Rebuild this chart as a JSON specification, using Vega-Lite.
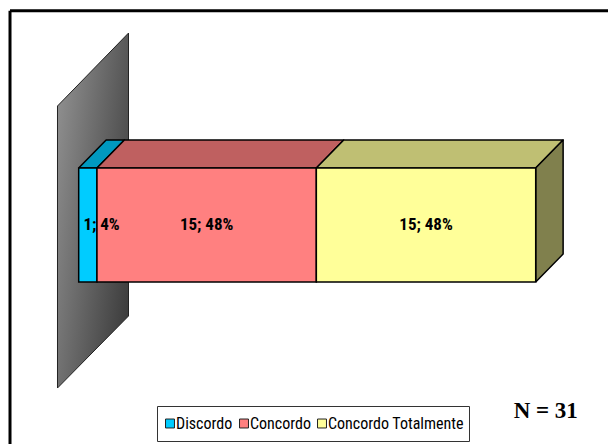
{
  "$schema": "https://vega.github.io/schema/vega-lite/v6.json",
  "width": 608,
  "height": 444,
  "padding": 0,
  "autosize": "none",
  "background": "#ffffff",
  "view": {"stroke": null},
  "datasets": {
    "respostas": [
      {"ordem": 1, "resposta": "Discordo", "n": 1, "pct": 4},
      {"ordem": 2, "resposta": "Concordo", "n": 15, "pct": 48},
      {"ordem": 3, "resposta": "Concordo Totalmente", "n": 15, "pct": 48}
    ],
    "nota": [{"n": 31}]
  },
  "layer": [
    {
      "description": "Back wall of the 3D chart",
      "data": {"values": [{"plano": "parede"}]},
      "transform": [
        {"calculate": "[0,1,2,3,4]", "as": "vertice"},
        {"calculate": "[-4.64,10.9,10.9,-4.64,-4.64]", "as": "px"},
        {"calculate": "[1.544,2.184,-0.298,-0.93,1.544]", "as": "py"},
        {"flatten": ["vertice", "px", "py"]}
      ],
      "mark": {
        "type": "line",
        "stroke": "#222222",
        "strokeWidth": 1,
        "fill": {
          "gradient": "linear",
          "x1": 0, "y1": 0.2, "x2": 1, "y2": 0.8,
          "stops": [
            {"offset": 0, "color": "#8e8e8e"},
            {"offset": 1, "color": "#3c3c3c"}
          ]
        }
      },
      "encoding": {
        "x": {"field": "px", "type": "quantitative", "scale": {"domain": [-17.22, 115.82], "nice": false, "zero": false}, "axis": null},
        "y": {"field": "py", "type": "quantitative", "scale": {"domain": [-1.421, 2.474], "nice": false, "zero": false}, "axis": null},
        "order": {"field": "vertice"}
      }
    },
    {
      "description": "Top faces of the stacked segments",
      "data": {"name": "respostas"},
      "transform": [
        {"stack": "pct", "sort": [{"field": "ordem"}], "as": ["inicio", "fim"]},
        {"calculate": "[0,1,2,3,4]", "as": "vertice"},
        {"calculate": "[datum.inicio,datum.fim,datum.fim+6.0,datum.inicio+6.0,datum.inicio]", "as": "px"},
        {"calculate": "[1,1,1.245,1.245,1]", "as": "py"},
        {"flatten": ["vertice", "px", "py"]}
      ],
      "mark": {"type": "line", "stroke": "#000000", "strokeWidth": 1.5, "strokeJoin": "round"},
      "encoding": {
        "x": {"field": "px", "type": "quantitative"},
        "y": {"field": "py", "type": "quantitative"},
        "order": {"field": "vertice"},
        "fill": {
          "field": "resposta",
          "type": "nominal",
          "scale": {"domain": ["Discordo", "Concordo", "Concordo Totalmente"], "range": ["#0099BF", "#BF6060", "#BFBF73"]},
          "legend": null
        }
      }
    },
    {
      "description": "Right-hand end face of the last segment",
      "data": {"name": "respostas"},
      "transform": [
        {"stack": "pct", "sort": [{"field": "ordem"}], "as": ["inicio", "fim"]},
        {"filter": "datum.ordem === 3"},
        {"calculate": "[0,1,2,3,4]", "as": "vertice"},
        {"calculate": "[datum.fim,datum.fim+6.0,datum.fim+6.0,datum.fim,datum.fim]", "as": "px"},
        {"calculate": "[0,0.245,1.245,1,0]", "as": "py"},
        {"flatten": ["vertice", "px", "py"]}
      ],
      "mark": {"type": "line", "stroke": "#000000", "strokeWidth": 1.5, "strokeJoin": "round", "fill": "#80804D"},
      "encoding": {
        "x": {"field": "px", "type": "quantitative"},
        "y": {"field": "py", "type": "quantitative"},
        "order": {"field": "vertice"}
      }
    },
    {
      "description": "Front faces of the stacked segments, which also carry the legend",
      "data": {"name": "respostas"},
      "transform": [
        {"stack": "pct", "sort": [{"field": "ordem"}], "as": ["inicio", "fim"]}
      ],
      "mark": {"type": "rect", "stroke": "#000000", "strokeWidth": 1.5},
      "encoding": {
        "x": {"field": "inicio", "type": "quantitative"},
        "x2": {"field": "fim"},
        "y": {"datum": 0},
        "y2": {"datum": 1},
        "fill": {
          "field": "resposta",
          "type": "nominal",
          "scale": {"domain": ["Discordo", "Concordo", "Concordo Totalmente"], "range": ["#00CCFF", "#FF8080", "#FFFF99"]},
          "legend": {
            "title": null,
            "orient": "none",
            "direction": "horizontal",
            "legendX": 157,
            "legendY": 406,
            "fillColor": "#ffffff",
            "strokeColor": "#333333",
            "padding": 5,
            "clipHeight": 25,
            "symbolType": "square",
            "symbolSize": 80,
            "symbolStrokeColor": "#222222",
            "symbolStrokeWidth": 1,
            "symbolOpacity": 1,
            "labelFont": "Roboto Condensed",
            "labelFontSize": 16,
            "labelColor": "#000000",
            "columnPadding": 3,
            "labelOffset": -2
          }
        }
      }
    },
    {
      "description": "Count and percentage labels",
      "data": {"name": "respostas"},
      "transform": [
        {"stack": "pct", "sort": [{"field": "ordem"}], "as": ["inicio", "fim"]},
        {"calculate": "datum.n + '; ' + datum.pct + '%'", "as": "rotulo"},
        {"calculate": "(datum.inicio + datum.fim) / 2 + (datum.pct < 5 ? 3 : 0)", "as": "meio"}
      ],
      "mark": {"type": "text", "font": "Roboto Condensed", "fontWeight": "bold", "fontSize": 17, "color": "#000000", "baseline": "middle", "align": "center"},
      "encoding": {
        "x": {"field": "meio", "type": "quantitative"},
        "y": {"datum": 0.5},
        "text": {"field": "rotulo"}
      }
    },
    {
      "description": "Sample size note",
      "data": {"name": "nota"},
      "transform": [{"calculate": "'N = ' + datum.n", "as": "texto"}],
      "mark": {"type": "text", "font": "Liberation Serif", "fontWeight": "bold", "fontSize": 23, "color": "#000000", "align": "center", "baseline": "alphabetic"},
      "encoding": {
        "x": {"datum": 102.2},
        "y": {"datum": -1.193},
        "text": {"field": "texto"}
      }
    },
    {
      "description": "Frame: left edge",
      "data": {"name": "nota"},
      "mark": {"type": "rule", "color": "#000000", "strokeWidth": 3},
      "encoding": {
        "x": {"datum": -15.03},
        "y": {"datum": 2.38},
        "y2": {"datum": -1.421}
      }
    },
    {
      "description": "Frame: top edge",
      "data": {"name": "nota"},
      "mark": {"type": "rule", "color": "#000000", "strokeWidth": 3},
      "encoding": {
        "y": {"datum": 2.38},
        "x": {"datum": -15.03},
        "x2": {"datum": 115.82}
      }
    }
  ],
  "resolve": {"scale": {"fill": "independent"}}
}
